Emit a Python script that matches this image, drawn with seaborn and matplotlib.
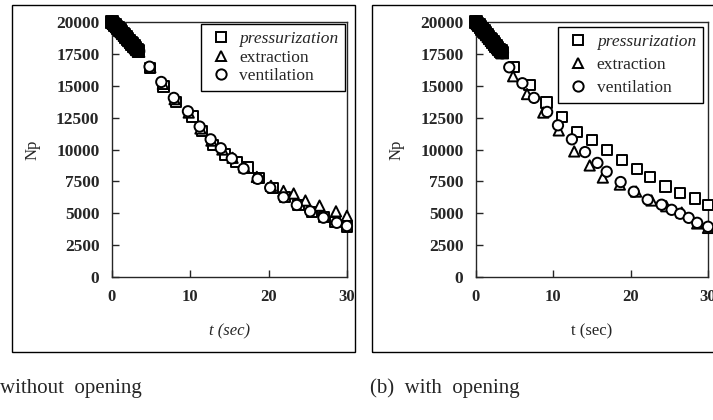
import numpy as np
import pandas as pd
import matplotlib
matplotlib.use("Agg")
import matplotlib.pyplot as plt
from matplotlib.patches import Rectangle
import seaborn as sns

# early dense readings (0-3.4 s), shared by the three modes
early_t = [0.0, 0.2, 0.4, 0.6, 0.8, 1.0, 1.2, 1.4, 1.6, 1.8, 2.0, 2.2, 2.4, 2.6, 2.8, 3.0, 3.2, 3.4]
early_np_a = [20000, 19900, 19780, 19650, 19520, 19390, 19250, 19110, 18970, 18830,
              18690, 18550, 18410, 18270, 18130, 17990, 17850, 17720]
early_np_b = [20000, 19880, 19750, 19610, 19470, 19320, 19170, 19020, 18870, 18720,
              18570, 18420, 18270, 18130, 17990, 17850, 17720, 17600]

# (a) without opening
p_t_a = [4.9, 6.6, 8.2, 10.3, 11.5, 12.9, 14.4, 15.9, 17.4, 18.8, 20.6, 22.1, 23.8, 25.5, 27.1, 28.5, 30.0]
p_np_a = [16400, 14950, 13750, 12600, 11450, 10350, 9600, 9000, 8600, 7750, 7000, 6250, 5650, 5100, 4700, 4300, 3950]
e_t_a = [4.9, 6.5, 8.0, 9.8, 11.3, 12.7, 14.1, 15.4, 16.9, 18.5, 20.3, 21.9, 23.2, 24.7, 26.5, 28.6, 30.0]
e_np_a = [16450, 15150, 13950, 12900, 11650, 10700, 10000, 9350, 8600, 7850, 7150, 6750, 6550, 6000, 5600, 5150, 4800]
v_t_a = [4.8, 6.3, 7.9, 9.7, 11.2, 12.6, 13.9, 15.3, 16.8, 18.6, 20.2, 21.9, 23.6, 25.3, 27.0, 28.7, 30.0]
v_np_a = [16500, 15300, 14050, 13000, 11800, 10800, 10100, 9300, 8500, 7700, 7000, 6250, 5650, 5150, 4650, 4250, 4000]

# (b) with opening
p_t_b = [4.9, 6.9, 9.1, 11.1, 13.1, 15.0, 16.9, 18.9, 20.8, 22.5, 24.5, 26.4, 28.3, 30.0]
p_np_b = [16450, 15050, 13700, 12550, 11400, 10750, 9950, 9200, 8450, 7850, 7100, 6600, 6150, 5650]
e_t_b = [4.8, 6.6, 8.7, 10.7, 12.7, 14.7, 16.4, 18.6, 20.7, 22.7, 24.6, 26.6, 28.6, 30.0]
e_np_b = [15750, 14350, 12900, 11500, 9850, 8750, 7800, 7250, 6700, 6000, 5550, 5050, 4200, 3850]
v_t_b = [4.3, 6.0, 7.5, 9.2, 10.6, 12.4, 14.1, 15.7, 16.9, 18.7, 20.4, 22.2, 24.0, 25.3, 26.4, 27.5, 28.6, 30.0]
v_np_b = [16450, 15200, 14050, 12950, 11900, 10800, 9800, 8950, 8260, 7450, 6690, 6060, 5670, 5270, 4960, 4640, 4250, 3940]

modes = ["pressurization", "extraction", "ventilation"]
markers = {"pressurization": "s", "extraction": "^", "ventilation": "o"}
x_ticks = [0, 10, 20, 30]
y_ticks = [0, 2500, 5000, 7500, 10000, 12500, 15000, 17500, 20000]


def make_df(t_list, np_list):
    rows = []
    for mode, ts, nps in zip(modes, t_list, np_list):
        for t, n in zip(ts, nps):
            rows.append({"t": t, "Np": n, "mode": mode})
    return pd.DataFrame(rows)


df_a = make_df([p_t_a, e_t_a, v_t_a], [p_np_a, e_np_a, v_np_a])
df_b = make_df([p_t_b, e_t_b, v_t_b], [p_np_b, e_np_b, v_np_b])
early_a = make_df([early_t] * 3, [early_np_a] * 3)
early_b = make_df([early_t] * 3, [early_np_b] * 3)

sns.set_style("ticks")
plt.rcParams["font.family"] = ["Liberation Serif", "DejaVu Serif"]
plt.rcParams["xtick.direction"] = "in"
plt.rcParams["ytick.direction"] = "in"

fig = plt.figure(figsize=(7.13, 4.2), dpi=100)
ax_a = fig.add_axes([0.157, 0.3405, 0.3296, 0.607])
ax_b = fig.add_axes([0.6676, 0.3405, 0.3254, 0.607])

for ax, df, early, italic_x in [(ax_a, df_a, early_a, True), (ax_b, df_b, early_b, False)]:
    # the first seconds are sampled so densely that the markers merge into a black band
    sns.scatterplot(data=early, x="t", y="Np", style="mode", markers=markers,
                    style_order=modes, color="black", edgecolor="black",
                    linewidth=1.4, s=70, ax=ax, clip_on=False, zorder=3, legend=False)
    sns.scatterplot(data=df, x="t", y="Np", style="mode", markers=markers,
                    style_order=modes, color="white", edgecolor="black",
                    linewidth=1.4, s=55, ax=ax, clip_on=False, zorder=3)
    ax.set_xlim(0, 30)
    ax.set_ylim(0, 20000)
    ax.set_xticks(x_ticks)
    ax.set_yticks(y_ticks)
    ax.tick_params(axis="x", length=5, width=1, pad=9, labelsize=12)
    ax.tick_params(axis="y", length=5, width=1, pad=9, labelsize=12.5)
    for lab in ax.get_xticklabels() + ax.get_yticklabels():
        lab.set_fontweight("bold")
    for sp in ax.spines.values():
        sp.set_linewidth(1.0)
        sp.set_visible(True)
    ax.set_xlabel("t (sec)", fontsize=12, style="italic" if italic_x else "normal", labelpad=13)
    ax.set_ylabel("Np", fontsize=12, labelpad=11)

    handles, labels = ax.get_legend_handles_labels()
    for h in handles:
        h.set_markerfacecolor("white")
        h.set_markeredgecolor("black")
        h.set_markeredgewidth(1.4)
    if ax is ax_a:
        fs, lsp, bap = 12.5, 0.15, 0.1
    else:
        fs, lsp, bap = 12.5, 0.38, 0.3
    leg = ax.legend(handles, labels, loc="upper right", fontsize=fs,
                    frameon=True, fancybox=False, edgecolor="black", framealpha=1,
                    borderaxespad=bap, handlelength=1.5, handletextpad=0.3,
                    labelspacing=lsp, borderpad=0.4)
    leg.get_frame().set_linewidth(1.0)
    leg.get_texts()[0].set_style("italic")

# outer panel frames of the scanned figure
fig.add_artist(Rectangle((0.0168, 0.1619), 0.481, 0.826, transform=fig.transFigure,
                         fill=False, edgecolor="black", linewidth=1.0))
fig.add_artist(Rectangle((0.5217, 0.1619), 0.50, 0.826, transform=fig.transFigure,
                         fill=False, edgecolor="black", linewidth=1.0))

fig.text(0.0, 0.075, "without  opening", fontsize=15, va="center", ha="left")
fig.text(0.519, 0.075, "(b)  with  opening", fontsize=15, va="center", ha="left")

fig.savefig("out.png", dpi=100)
